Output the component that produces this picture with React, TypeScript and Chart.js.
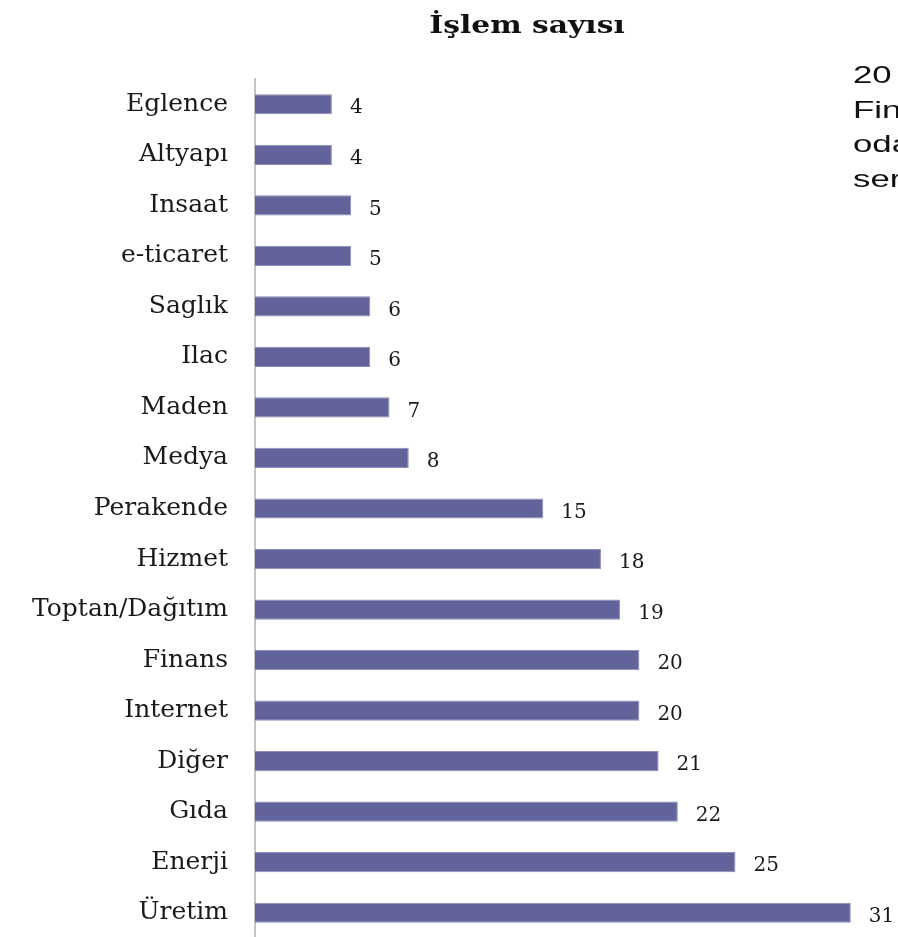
import React, { useEffect, useRef } from "react";
import { Chart, registerables } from "chart.js";

Chart.register(...registerables);

const categories = [
  "Eglence",
  "Altyapı",
  "Insaat",
  "e-ticaret",
  "Saglık",
  "Ilac",
  "Maden",
  "Medya",
  "Perakende",
  "Hizmet",
  "Toptan/Dağıtım",
  "Finans",
  "Internet",
  "Diğer",
  "Gıda",
  "Enerji",
  "Üretim",
];
const values = [4, 4, 5, 5, 6, 6, 7, 8, 15, 18, 19, 20, 20, 21, 22, 25, 31];
const chartTitle = "İşlem sayısı";
const sideLines = ["20", "Fin", "oda", "ser"];

const SERIF = '"DejaVu Serif", "Liberation Serif", serif';

const valueLabels = {
  id: "valueLabels",
  afterDatasetsDraw(chart: any) {
    const ctx = chart.ctx;
    const meta = chart.getDatasetMeta(0);
    ctx.save();
    ctx.font = `20px ${SERIF}`;
    ctx.fillStyle = "#1a1a1a";
    ctx.textAlign = "left";
    ctx.textBaseline = "middle";
    meta.data.forEach((bar: any, i: number) => {
      ctx.fillText(String(values[i]), bar.x + 18, bar.y + 4);
    });
    ctx.restore();
  },
};

const titlePlugin = {
  id: "customTitle",
  afterDraw(chart: any) {
    const ctx = chart.ctx;
    ctx.save();
    ctx.font = `bold 25px ${SERIF}`;
    ctx.fillStyle = "#111";
    ctx.textAlign = "center";
    ctx.textBaseline = "middle";
    ctx.translate(527, 26);
    ctx.scale(1.19, 1);
    ctx.fillText(chartTitle, 0, 0);
    ctx.restore();
  },
};

export default function App() {
  const ref = useRef<HTMLCanvasElement>(null);

  useEffect(() => {
    if (!ref.current) return;
    const chart = new Chart(ref.current, {
      type: "bar",
      data: {
        labels: categories,
        datasets: [
          {
            data: values,
            backgroundColor: "#62639a",
            borderColor: "#8c8db8",
            borderWidth: 1,
            categoryPercentage: 1,
            barPercentage: 0.4,
          },
        ],
      },
      options: {
        indexAxis: "y",
        responsive: false,
        animation: false,
        layout: { padding: { top: 79, right: 28, bottom: 0, left: 0 } },
        plugins: {
          legend: { display: false },
          tooltip: { enabled: false },
          title: { display: false },
        },
        scales: {
          x: { display: false, min: 0, max: 32 },
          y: {
            afterFit(scale: any) {
              scale.width = 255;
            },
            grid: {
              display: true,
              color: "transparent",
              drawOnChartArea: false,
              drawTicks: true,
              tickLength: 27,
              tickColor: "transparent",
            },
            border: { display: true, color: "#c4c4c4", width: 2 },
            ticks: {
              padding: 0,
              color: "#1a1a1a",
              font: { family: SERIF, size: 25 },
            },
          },
        },
      },
      plugins: [valueLabels, titlePlugin],
    });
    return () => chart.destroy();
  }, []);

  return (
    <div
      style={{
        position: "fixed",
        left: 0,
        top: 0,
        width: 898,
        height: 937,
        overflow: "hidden",
        background: "#fff",
      }}
    >
      <canvas ref={ref} width={898} height={953} style={{ display: "block" }} />
      <div
        style={{
          position: "absolute",
          left: 853,
          top: 58,
          fontFamily: '"Liberation Sans", Arial, sans-serif',
          fontSize: 24,
          lineHeight: "34.5px",
          color: "#111",
          whiteSpace: "nowrap",
          transform: "scaleX(1.45)",
          transformOrigin: "left top",
        }}
      >
        {sideLines.map((l, i) => (
          <div key={i}>{l}</div>
        ))}
      </div>
    </div>
  );
}
